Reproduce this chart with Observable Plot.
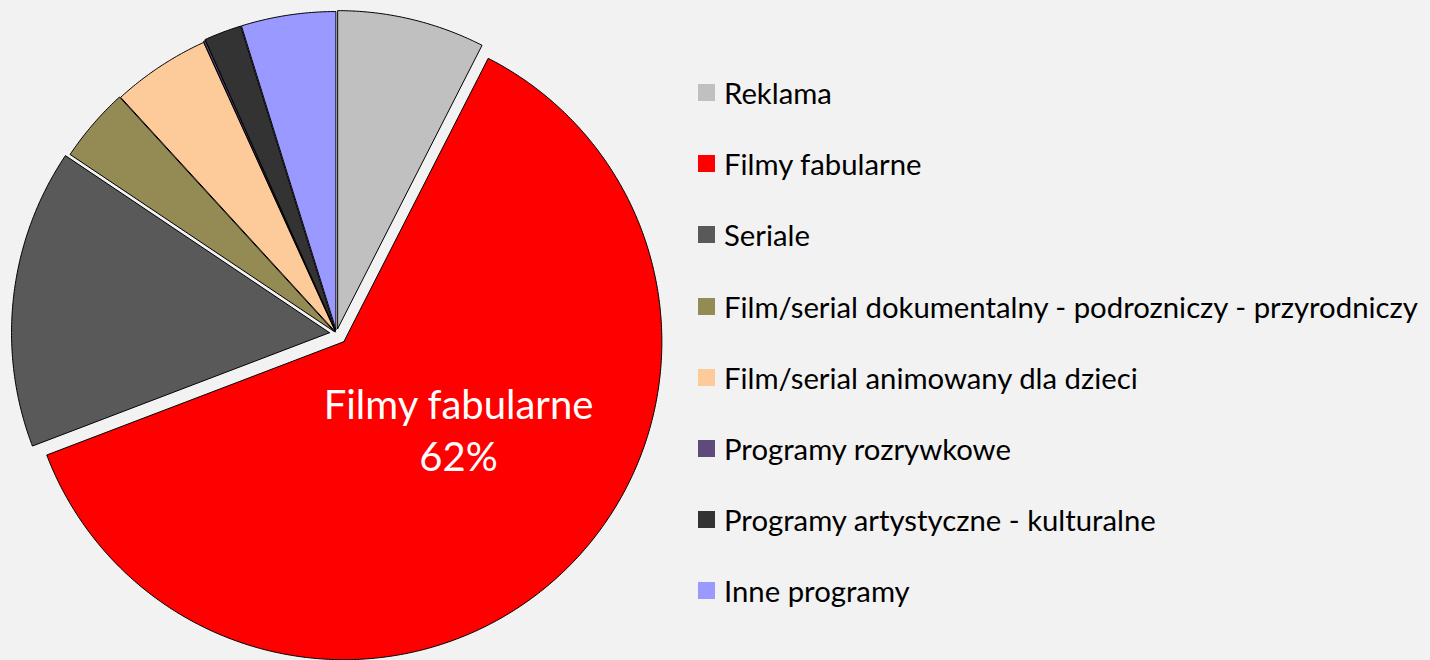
<!DOCTYPE html>
<html><head><meta charset="utf-8">
<script src="https://cdn.jsdelivr.net/npm/d3@7"></script>
<script src="https://cdn.jsdelivr.net/npm/@observablehq/plot@0.6"></script>
<style>
html,body{margin:0;padding:0;background:#f2f2f2;}
#wrap{display:flex;width:1430px;height:660px;overflow:hidden;}
#legend{font-family:Lato,"Open Sans",sans-serif;font-size:29.3px;color:#000;padding-top:57px;margin-left:8px;}
.item{height:71.2px;display:flex;align-items:center;white-space:nowrap;}
.sw{width:17px;height:17px;margin-right:9px;flex:none;}
</style></head>
<body><div id="wrap"><div id="chart"></div><div id="legend"></div></div>
<script>
// ---- data ----
const categories = [
  "Reklama",
  "Filmy fabularne",
  "Seriale",
  "Film/serial dokumentalny - podrozniczy - przyrodniczy",
  "Film/serial animowany dla dzieci",
  "Programy rozrywkowe",
  "Programy artystyczne - kulturalne",
  "Inne programy"
];
const shares = [7.5, 61.7, 15.2, 3.8, 5.0, 0.1, 1.9, 4.8];
const labelledCategory = "Filmy fabularne";
const labelPercent = "62%";

// ---- styles ----
const sliceColors = ["#c0c0c0","#ff0000","#595959","#948a54","#fdca99","#604a7b","#333333","#9999ff"];
const explodePx = [5, 11, 7, 3, 2, 3, 4, 4];
const R = 318, CX = 336, CY = 333, W = 690, H = 660;
const fontFamily = 'Lato, "Open Sans", sans-serif';

const arcs = d3.pie().sort(null).value(d => d)(shares);
const slices = arcs.map((a, i) => {
  const m = (a.startAngle + a.endAngle) / 2;
  const ox = explodePx[i] / R * Math.sin(m), oy = explodePx[i] / R * Math.cos(m);
  const n = Math.max(2, Math.ceil((a.endAngle - a.startAngle) * 180 / Math.PI * 2));
  const pts = [[ox, oy]];
  for (let k = 0; k <= n; k++) {
    const t = a.startAngle + (a.endAngle - a.startAngle) * k / n;
    pts.push([ox + Math.sin(t), oy + Math.cos(t)]);
  }
  pts.push([ox, oy]);
  return {pts, m, ox, oy};
});

const li = categories.indexOf(labelledCategory);
const ls = slices[li];
const labelRho = 0.45;
const labelData = [{
  x: ls.ox + labelRho * Math.sin(ls.m),
  y: ls.oy + labelRho * Math.cos(ls.m),
  text: labelledCategory + "\n" + labelPercent
}];

const chart = Plot.plot({
  width: W, height: H,
  marginTop: 0, marginBottom: 0, marginLeft: 0, marginRight: 0,
  x: {domain: [-CX / R, (W - CX) / R], axis: null},
  y: {domain: [-(H - CY) / R, CY / R], axis: null},
  style: {background: "transparent"},
  marks: [
    ...slices.map((s, i) => Plot.line(s.pts, {
      x: d => d[0], y: d => d[1],
      fill: sliceColors[i], stroke: "#000", strokeWidth: 1, strokeLinejoin: "miter"
    })),
    Plot.text(labelData, {
      x: "x", y: "y", text: "text", fill: "white",
      fontSize: 40, fontFamily, lineHeight: 52 / 40, dx: 19, dy: -20
    })
  ]
});
document.getElementById("chart").appendChild(chart);

const legend = d3.select("#legend");
categories.forEach((c, i) => {
  const row = legend.append("div").attr("class", "item");
  row.append("div").attr("class", "sw").style("background", sliceColors[i]);
  row.append("span").text(c);
});
</script>
</body></html>
